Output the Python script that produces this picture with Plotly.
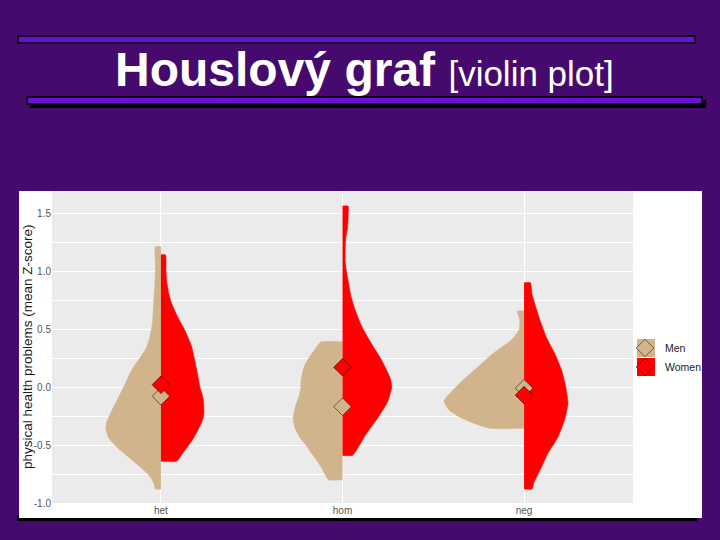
import plotly.graph_objects as go

# ---------------- data ----------------
CATEGORIES = ["het", "hom", "neg"]
SERIES = ["Men", "Women"]

# half-violin profiles: y levels and half-widths (in category units)
HET_MEN_Y = [1.21, 1.05, 0.90, 0.70, 0.55, 0.43, 0.33, 0.24, 0.15, 0.04, -0.08, -0.20, -0.30, -0.36, -0.44, -0.52, -0.60, -0.68, -0.76, -0.83, -0.88]
HET_MEN_W = [0.031, 0.030, 0.033, 0.041, 0.047, 0.061, 0.083, 0.121, 0.160, 0.193, 0.231, 0.270, 0.298, 0.303, 0.287, 0.242, 0.182, 0.121, 0.066, 0.039, 0.030]
HET_WOMEN_Y = [1.14, 1.00, 0.92, 0.80, 0.72, 0.60, 0.49, 0.35, 0.15, 0.00, -0.10, -0.23, -0.30, -0.37, -0.45, -0.51, -0.58, -0.64]
HET_WOMEN_W = [0.025, 0.028, 0.031, 0.044, 0.059, 0.094, 0.132, 0.169, 0.197, 0.215, 0.233, 0.237, 0.226, 0.204, 0.176, 0.149, 0.116, 0.087]

HOM_MEN_Y = [0.39, 0.33, 0.276, 0.20, 0.13, 0.05, -0.01, -0.08, -0.155, -0.22, -0.27, -0.356, -0.43, -0.50, -0.57, -0.64, -0.72, -0.80]
HOM_MEN_W = [0.119, 0.149, 0.175, 0.204, 0.220, 0.229, 0.230, 0.240, 0.257, 0.267, 0.272, 0.261, 0.237, 0.202, 0.171, 0.138, 0.107, 0.077]
HOM_WOMEN_Y = [1.56, 1.47, 1.37, 1.28, 1.18, 1.08, 0.94, 0.79, 0.65, 0.51, 0.36, 0.22, 0.075, 0.0, -0.13, -0.27, -0.41, -0.53, -0.59]
HOM_WOMEN_W = [0.031, 0.031, 0.028, 0.018, 0.015, 0.015, 0.028, 0.046, 0.073, 0.110, 0.165, 0.220, 0.263, 0.272, 0.248, 0.193, 0.128, 0.083, 0.055]

NEG_MEN_Y = [0.655, 0.58, 0.49, 0.405, 0.29, 0.175, 0.06, 0.0, -0.08, -0.12, -0.20, -0.27, -0.33, -0.356]
NEG_MEN_W = [0.037, 0.024, 0.028, 0.070, 0.171, 0.253, 0.336, 0.375, 0.424, 0.441, 0.413, 0.342, 0.248, 0.187]
NEG_WOMEN_Y = [0.90, 0.80, 0.72, 0.58, 0.43, 0.29, 0.15, 0.0, -0.14, -0.28, -0.43, -0.57, -0.72, -0.83, -0.88]
NEG_WOMEN_W = [0.035, 0.044, 0.059, 0.087, 0.123, 0.169, 0.206, 0.230, 0.242, 0.224, 0.187, 0.132, 0.087, 0.053, 0.044]

MEANS_MEN = [-0.08, -0.17, -0.01]
MEANS_WOMEN = [0.02, 0.17, -0.07]

Y_TICKS = [-1.0, -0.5, 0.0, 0.5, 1.0, 1.5]
Y_TICK_LABELS = ["-1.0", "-0.5", "0.0", "0.5", "1.0", "1.5"]

TITLE_BOLD = "Houslový graf"
TITLE_REG = "[violin plot]"
Y_TITLE = "physical health problems (mean Z-score)"

# ---------------- style ----------------
W, H = 720, 540
ML, MR, MT, MB = 52, 87, 191, 37
PW, PH = W - ML - MR, H - MT - MB
SLIDE = "#46096E"
BAR = "#6A10D0"
TAN = "#D2B48C"
RED = "#FF0000"
PANEL = "#EBEBEB"
FONT = "Liberation Sans, Arial, sans-serif"


def px(x):
    return (x - ML) / PW


def py(y):
    return (H - MB - y) / PH


profiles = {
    "het": [(HET_MEN_Y, HET_MEN_W), (HET_WOMEN_Y, HET_WOMEN_W)],
    "hom": [(HOM_MEN_Y, HOM_MEN_W), (HOM_WOMEN_Y, HOM_WOMEN_W)],
    "neg": [(NEG_MEN_Y, NEG_MEN_W), (NEG_WOMEN_Y, NEG_WOMEN_W)],
}
colors = [TAN, RED]

fig = go.Figure()
for i, cat in enumerate(CATEGORIES):
    pos = i + 1
    for j, (ys, ws) in enumerate(profiles[cat]):
        sign = -1 if j == 0 else 1
        xs = [pos] + [pos + sign * w for w in ws] + [pos]
        yy = [ys[0]] + list(ys) + [ys[-1]]
        fig.add_trace(go.Scatter(
            x=xs, y=yy, mode="lines", fill="toself",
            fillcolor=colors[j], line=dict(color=colors[j], width=0.5, shape="spline", smoothing=0.5),
            hoverinfo="skip", showlegend=False,
        ))

fig.add_trace(go.Scatter(
    x=[1, 2, 3], y=MEANS_MEN, mode="markers", name=SERIES[0],
    marker=dict(symbol="diamond", size=13.5, color=TAN, line=dict(color="#3a3020", width=0.7)),
))
fig.add_trace(go.Scatter(
    x=[1, 2, 3], y=MEANS_WOMEN, mode="markers", name=SERIES[1],
    marker=dict(symbol="diamond", size=13.5, color=RED, line=dict(color="#5a0000", width=0.7)),
))

shapes = []
# slide decorations
shapes.append(dict(type="rect", xref="paper", yref="paper", layer="below",
                   x0=px(17), x1=px(697), y0=py(521), y1=py(515),
                   fillcolor="black", line=dict(width=0)))
shapes.append(dict(type="rect", xref="paper", yref="paper", layer="below",
                   x0=px(19), x1=px(702), y0=py(518), y1=py(191),
                   fillcolor="white", line=dict(width=0)))
shapes.append(dict(type="rect", xref="paper", yref="paper", layer="below",
                   x0=0, x1=1, y0=0, y1=1,
                   fillcolor=PANEL, line=dict(width=0)))
# title bars
shapes.append(dict(type="rect", xref="paper", yref="paper",
                   x0=px(18), x1=px(695), y0=py(43), y1=py(36),
                   fillcolor=BAR, line=dict(color="black", width=1.5)))
shapes.append(dict(type="rect", xref="paper", yref="paper",
                   x0=px(30), x1=px(706), y0=py(108), y1=py(100),
                   fillcolor="black", line=dict(width=0)))
shapes.append(dict(type="rect", xref="paper", yref="paper",
                   x0=px(27), x1=px(702), y0=py(104), y1=py(97),
                   fillcolor=BAR, line=dict(color="black", width=1.5)))
# legend key backgrounds
for k, c in enumerate(colors):
    cy = 348 + 19 * k
    shapes.append(dict(type="rect", xref="paper", yref="paper",
                       x0=px(637), x1=px(655), y0=py(cy + 9), y1=py(cy - 9),
                       fillcolor=c, line=dict(width=0)))

annotations = [
    dict(xref="paper", yref="paper", x=px(364), y=py(69), xanchor="center", yanchor="middle",
         showarrow=False,
         text=f"<b>{TITLE_BOLD}</b> <span style='font-size:35px'>{TITLE_REG}</span>",
         font=dict(family=FONT, size=48, color="white")),
    dict(xref="paper", yref="paper", x=px(27), y=0.5, xanchor="center", yanchor="middle",
         showarrow=False, textangle=-90, text=Y_TITLE,
         font=dict(family=FONT, size=13.5, color="#1A1A1A")),
]

fig.update_layout(
    width=W, height=H,
    margin=dict(l=ML, r=MR, t=MT, b=MB, pad=0),
    paper_bgcolor=SLIDE, plot_bgcolor=PANEL,
    shapes=shapes, annotations=annotations,
    showlegend=True,
    legend=dict(x=px(625), y=py(357.5), xanchor="left", yanchor="middle",
                bgcolor="rgba(0,0,0,0)", borderwidth=0,
                font=dict(family=FONT, size=10.5, color="#1A1A1A")),
    xaxis=dict(range=[0.4, 3.6], tickvals=[1, 2, 3], ticktext=CATEGORIES,
               showgrid=True, gridcolor="white", gridwidth=1.1, zeroline=False,
               showline=False, ticks="", tickfont=dict(family=FONT, size=10, color="#555555")),
    yaxis=dict(range=[-1.0, 1.69], tickvals=Y_TICKS, ticktext=Y_TICK_LABELS,
               showgrid=True, gridcolor="white", gridwidth=1.1, zeroline=False,
               showline=False, ticks="", tickfont=dict(family=FONT, size=10, color="#555555"),
               minor=dict(dtick=0.25, tick0=-1.0, showgrid=True, gridcolor="white", gridwidth=0.5)),
)

fig.write_html(
    "out.html",
    config={"displayModeBar": False},
    post_script="document.body.style.margin='0';document.body.style.backgroundColor='#46096E';",
)
